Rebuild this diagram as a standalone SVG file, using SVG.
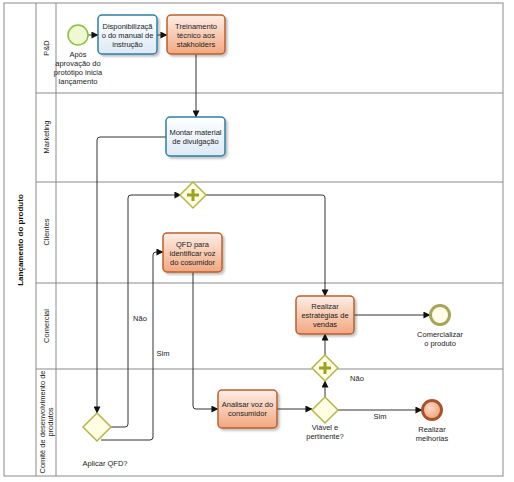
<svg xmlns="http://www.w3.org/2000/svg" width="514" height="482" viewBox="0 0 514 482">
<defs>
<linearGradient id="gOr" x1="0" y1="0" x2="0" y2="1"><stop offset="0" stop-color="#fdeee6"/><stop offset="1" stop-color="#f2a77f"/></linearGradient>
<linearGradient id="gBl" x1="0" y1="0" x2="0" y2="1"><stop offset="0" stop-color="#ffffff"/><stop offset="1" stop-color="#dde9f5"/></linearGradient>
<radialGradient id="gEnd" cx="0.4" cy="0.4" r="0.7"><stop offset="0" stop-color="#fbd9c6"/><stop offset="1" stop-color="#ef9a70"/></radialGradient>
<marker id="ah" viewBox="0 0 8 8" refX="7.5" refY="4" markerWidth="7" markerHeight="7" markerUnits="userSpaceOnUse" orient="auto"><path d="M0,0 L8,4 L0,8 z" fill="#111"/></marker>
<filter id="sh" x="-10%" y="-10%" width="130%" height="130%"><feDropShadow dx="2" dy="2" stdDeviation="1.2" flood-color="#000" flood-opacity="0.25"/></filter>
</defs>
<style>
.lane{fill:none;stroke:#8a8a8a;stroke-width:1}
.t{font-family:"Liberation Sans",Arial,sans-serif;font-size:7.5px;fill:#222;text-anchor:middle}
.lt{font-family:"Liberation Sans",Arial,sans-serif;font-size:7.5px;fill:#222;text-anchor:middle}
.pt{font-family:"Liberation Sans",Arial,sans-serif;font-size:8px;font-weight:bold;fill:#111;text-anchor:middle}
.or{fill:url(#gOr);stroke:#b9602e;stroke-width:1.5;filter:url(#sh)}
.bl{fill:url(#gBl);stroke:#2f7fa6;stroke-width:1.5;filter:url(#sh)}
.gw{fill:#fffde2;stroke:#b5b54a;stroke-width:1.5}
.plus{fill:#9ea41a}
.c{fill:none;stroke:#333;stroke-width:1;marker-end:url(#ah)}
.cn{fill:none;stroke:#333;stroke-width:1}
</style>
<rect width="514" height="482" fill="#ffffff"/>
<g id="pool">
<rect class="lane" x="4" y="3" width="499" height="473"/>
<line class="lane" x1="36" y1="3" x2="36" y2="476"/>
<line class="lane" x1="56" y1="3" x2="56" y2="476"/>
<line class="lane" x1="36" y1="93" x2="503" y2="93"/>
<line class="lane" x1="36" y1="182" x2="503" y2="182"/>
<line class="lane" x1="36" y1="283" x2="503" y2="283"/>
<line class="lane" x1="36" y1="369" x2="503" y2="369"/>
<text class="pt" transform="translate(23,240) rotate(-90)">Lançamento do produto</text>
<text class="lt" transform="translate(49,48) rotate(-90)">P&amp;D</text>
<text class="lt" transform="translate(49,137) rotate(-90)">Marketing</text>
<text class="lt" transform="translate(49,232) rotate(-90)">Clientes</text>
<text class="lt" transform="translate(49,326) rotate(-90)">Comercial</text>
<text class="lt" transform="translate(45,422) rotate(-90)">Comitê de desenvolvimento de</text>
<text class="lt" transform="translate(53,422) rotate(-90)">produtos</text>
</g>
<g id="connectors">
<path class="c" d="M88,35 H98"/>
<path class="c" d="M157,35 H167"/>
<path class="c" d="M196,54 V117"/>
<path class="c" d="M166,137 H100 Q97,137 97,140 V413"/>
<path class="c" d="M111,427 H125 Q128,427 128,424 V198 Q128,195 131,195 H181"/>
<path class="c" d="M101,440 H150 Q153,440 153,437 V255 Q153,252 156,252 H163"/>
<path class="c" d="M206,195 H322 Q325,195 325,198 V296"/>
<path class="c" d="M193,272 V406 Q193,409 196,409 H218"/>
<path class="c" d="M277,409 H312"/>
<path class="c" d="M338,410 H422"/>
<path class="c" d="M325,397 V381"/>
<path class="c" d="M325,355 V334"/>
<path class="c" d="M354,315 H430"/>
<text class="t" x="140" y="321">Não</text>
<text class="t" x="163" y="356">Sim</text>
<text class="t" x="380" y="419">Sim</text>
<text class="t" x="357" y="381">Não</text>
</g>
<g id="start">
<circle cx="78" cy="35" r="10" fill="#eef8d2" stroke="#8cbf3f" stroke-width="1.5"/>
<text class="t" x="78" y="57">Após</text>
<text class="t" x="78" y="66">aprovação do</text>
<text class="t" x="78" y="75">protótipo inicia</text>
<text class="t" x="78" y="84">lançamento</text>
</g>
<g id="task-disponibilizacao">
<rect class="bl" x="98" y="15" width="59" height="39" rx="4"/>
<text class="t" x="127.5" y="29">Disponibilizaçã</text>
<text class="t" x="127.5" y="38">o do manual de</text>
<text class="t" x="127.5" y="47">instrução</text>
</g>
<g id="task-treinamento">
<rect class="or" x="167" y="15" width="58" height="39" rx="4"/>
<text class="t" x="196" y="29">Treinamento</text>
<text class="t" x="196" y="38">técnico aos</text>
<text class="t" x="196" y="47">stakholders</text>
</g>
<g id="task-montar">
<rect class="bl" x="166" y="117" width="59" height="39" rx="4"/>
<text class="t" x="195.5" y="135">Montar material</text>
<text class="t" x="195.5" y="144">de divulgação</text>
</g>
<g id="gw-aplicar">
<path class="gw" d="M97,413 L111,427 L97,441 L83,427 Z"/>
<text class="t" x="105" y="466">Aplicar QFD?</text>
</g>
<g id="gw-parallel-top">
<path class="gw" d="M193,182 L206,195 L193,208 L180,195 Z"/>
<path class="plus" d="M191.5,189 h3 v4.5 h4.5 v3 h-4.5 v4.5 h-3 v-4.5 h-4.5 v-3 h4.5 z"/>
</g>
<g id="task-qfd">
<rect class="or" x="163" y="233" width="59" height="39" rx="4"/>
<text class="t" x="192.5" y="247">QFD para</text>
<text class="t" x="192.5" y="256">identificar voz</text>
<text class="t" x="192.5" y="265">do cosumidor</text>
</g>
<g id="task-realizar-estrategias">
<rect class="or" x="296" y="296" width="58" height="38" rx="4"/>
<text class="t" x="325" y="309">Realizar</text>
<text class="t" x="325" y="318">estratégias de</text>
<text class="t" x="325" y="327">vendas</text>
</g>
<g id="end-comercializar">
<circle cx="440" cy="315" r="9.5" fill="#fffde8" stroke="#a5a55a" stroke-width="3"/>
<text class="t" x="440" y="337">Comercializar</text>
<text class="t" x="440" y="346">o produto</text>
</g>
<g id="gw-parallel-bottom">
<path class="gw" d="M325,355 L338,368 L325,381 L312,368 Z"/>
<path class="plus" d="M323.5,362 h3 v4.5 h4.5 v3 h-4.5 v4.5 h-3 v-4.5 h-4.5 v-3 h4.5 z"/>
</g>
<g id="task-analisar">
<rect class="or" x="218" y="390" width="59" height="38" rx="4"/>
<text class="t" x="247.5" y="407">Analisar voz do</text>
<text class="t" x="247.5" y="416">consumidor</text>
</g>
<g id="gw-viavel">
<path class="gw" d="M325,397 L338,410 L325,423 L312,410 Z"/>
<text class="t" x="325" y="430">Viável e</text>
<text class="t" x="325" y="439">pertinente?</text>
</g>
<g id="end-melhorias">
<circle cx="432" cy="410" r="9.5" fill="url(#gEnd)" stroke="#a9532a" stroke-width="3"/>
<text class="t" x="432" y="432">Realizar</text>
<text class="t" x="432" y="441">melhorias</text>
</g>
</svg>
